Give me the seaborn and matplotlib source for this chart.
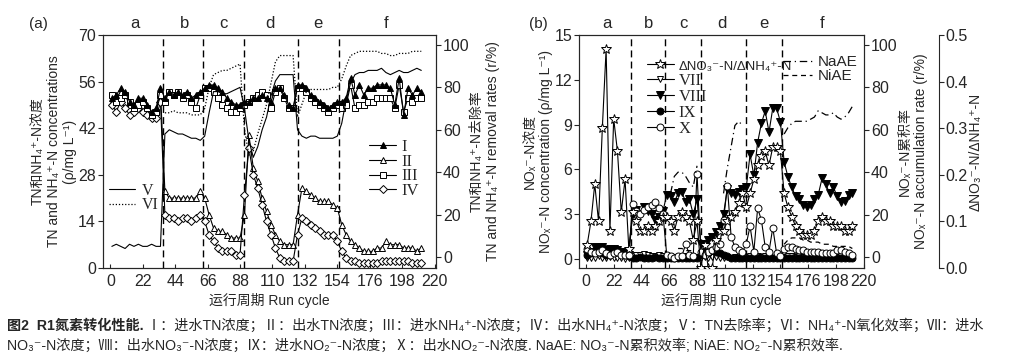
import numpy as np
import matplotlib
matplotlib.use("Agg")
import matplotlib.pyplot as plt
from matplotlib.lines import Line2D
import seaborn as sns

# run cycles sampled every 3 cycles; phases a-f
cycle = np.arange(1, 213, 3)
phase_edges = [36, 63, 91, 127, 155]
phase_names = ["a", "b", "c", "d", "e", "f"]
phase_mid = [17, 50, 77, 108, 141, 187]
nan = np.nan

# ---- panel (a): mg/L (left) and % (right)
tn_in = [51, 52, 54, 53, 50, 49, 51, 51, 49, 47, 48, 54,
         51, 53, 52, 53, 52, 53, 51, 52, 53,
         54, 55, 55, 54, 53, 51, 50, 49, 49,
         50, 50, 51, 51, 52, 51, 50, 54, 54, 52, 49, 48,
         55, 55, 54, 52, 51, 50, 49, 48, 49, 50,
         50, 51, 57, 52, 55, 52, 54, 54, 55, 55, 55, 54, 49, 57, 46, 54, 52, 54, 53]
tn_out = [50, 51, 53, 52, 49, 48, 50, 50, 48, 46, 47, 53,
          23, 21, 21, 21, 21, 21, 21, 21, 23,
          21, 16, 12, 11, 11, 10, 9, 9, 9,
          16, 40, 30, 26, 21, 17, 13, 10, 8, 7, 7, 7,
          16, 24, 23, 22, 21, 20, 20, 20, 19, 18,
          13, 10, 8, 7, 6, 5, 5, 5, 6, 6, 8, 7, 7, 7, 6, 6, 6, 5, 6]
nh4_in = [52, 50, 51, 52, 50, 48, 49, 50, 48, 46, 47, 52,
          50, 53, 52, 53, 51, 52, 50, 48, 52,
          54, 54, 53, 51, 49, 48, 47, 47, 48,
          49, 50, 51, 52, 53, 52, 48, 53, 54, 51, 48, 48,
          54, 54, 53, 51, 50, 49, 48, 47, 48, 49,
          48, 49, 55, 48, 49, 49, 50, 50, 51, 51, 51, 51, 48, 55, 47, 51, 50, 51, 51]
nh4_out = [49, 47, 50, 48, 46, 47, 48, 47, 46, 45, 45, 50,
           16, 15, 15, 14, 15, 15, 14, 15, 16,
           14, 10, 8, 6, 5, 5, 5, 4, 4,
           22, 36, 28, 24, 19, 14, 10, 6, 3, 2, 2, 2,
           10, 15, 14, 13, 12, 11, 10, 10, 10, 8,
           5, 3, 2, 2, 1.5, 1.5, 1.5, 1.5, 1.5, 2, 2, 2, 2, 2, 2, 2, 1.5, 1.5, 1.5]
tn_removal = [5, 6, 5, 4, 6, 5, 6, 5, 5, 6, 5, 5,
              58, 60, 59, 58, 58, 57, 56, 56, 55,
              57, 68, 78, 78, 77, 77, 78, 79, 80,
              70, 55, 47, 52, 60, 66, 76, 83, 86, 86, 86, 86,
              60, 57, 56, 57, 57, 56, 56, 56, 56, 57,
              63, 74, 82, 86, 87, 87, 88, 88, 88, 89, 87, 86, 87, 88, 87, 87, 88, 89, 88]
nh4_oxid = [nan] * 12 + [68, 68, 69, 68, 68, 68, 67, 67, 67,
                         70, 80, 86, 87, 88, 88, 89, 90, 91,
                         60, 48, 50, 58, 65, 72, 82, 92, 95, 95, 95, 95,
                         66, 72, 78, 79, 79, 79, 79, 79, 80, 80,
                         84, 90, 95, 96, 97, 97, 97, 97, 97, 96, 96, 95, 95, 96, 96, 96, 97, 97, 97]

# ---- panel (b): mg/L (left), % (right), ratio (outer right)
no3_in = [0.1, 0.05, 0.1, 0.2, 0.1, 0.1, 0.15, 0.1, 0.05, 0.1, 0.0, 0.1,
          0.2, 0.25, 0.3, 0.35, 0.3, 0.2, 0.2, 0.25, 0.2,
          0.15, 0.1, 0.15, 0.1, 0.15, 0.2, 0.15, 0.1, 0.15,
          0.1, 0.15, 0.1, 0.15, 0.15, 0.1, 0.1, 0.15, 0.1, 0.15, 0.1, 0.15,
          0.15, 0.2, 0.15, 0.2, 0.15, 0.2, 0.15, 0.1, 0.15, 0.1,
          0.15, 0.2, 0.2, 0.15, 0.2, 0.15, 0.2, 0.15, 0.15, 0.2, 0.15, 0.2, 0.15, 0.2, 0.15, 0.2, 0.15, 0.2, 0.15]
no3_out = [0.3, 0.5, 0.8, 0.7, 0.8, 0.6, 0.7, 0.7, 0.6, 0.5, 0.4, 0.3,
           3.0, 3.3, 3.0, 3.5, 3.2, 3.0, 2.6, 2.8, 3.2,
           4.3, 4.2, 3.8, 4.4, 4.5, 3.8, 4.0, 3.0, 4.0,
           1.0, 1.0, 1.3, 1.5, 1.8, 2.2, 3.0, 4.7, 4.4, 4.3, 4.5, 4.7,
           4.8, 7.0, 5.6, 7.8, 9.1, 9.9, 8.5, 10.1, 10.1, 9.2,
           6.5, 5.5, 4.8, 4.2, 4.0, 3.6, 3.5, 3.6, 4.0, 4.3, 5.4, 5.0, 4.4, 4.8, 4.2, 3.8, 3.9, 4.3, 4.4]
no2_in = [0.3, 0.4, 0.5, 0.6, 0.4, 0.3, 0.5, 0.6, 0.5, 0.4, 0.3, 0.2,
          0.1, 0.1, 0.15, 0.1, 0.1, 0.1, 0.15, 0.1, 0.1,
          0.1, 0.1, 0.05, 0.1, 0.1, 0.05, 0.1, 0.1, 0.1,
          0.3, 0.5, 0.4, 0.6, 0.5, 0.4, 0.3, 0.2, 0.1, 0.1, 0.1, 0.1,
          0.1, 0.1, 0.1, 0.1, 0.1, 0.1, 0.1, 0.1, 0.1, 0.1,
          0.1, 0.1, 0.1, 0.1, 0.1, 0.1, 0.1, 0.1, 0.1, 0.1, 0.1, 0.1, 0.1, 0.1, 0.1, 0.1, 0.1, 0.1, 0.1]
no2_out = [0.7, 0.5, 0.4, 0.5, 0.6, 0.4, 0.3, 0.4, 0.5, 0.3, 0.3, 0.3,
           3.7, 3.2, 3.0, 3.3, 3.5, 3.6, 3.8, 3.4, 3.0,
           0.3, 0.2, 0.1, 0.2, 0.2, 1.0, 0.3, 0.2, 5.7,
           0.5, 0.3, 0.5, 0.6, 0.8, 1.0, 2.6, 4.9, 1.5, 0.8, 0.6, 0.5,
           1.0, 2.2, 0.5, 3.4, 2.6, 0.8, 0.5, 2.1, 0.4, 0.2,
           0.7, 0.8, 0.8, 0.7, 0.6, 0.6, 0.5, 0.5, 0.5, 0.5, 0.4, 0.4, 0.4, 0.4, 0.6, 0.6, 0.5, 0.4, 0.3]
ratio = [0.05, 0.10, 0.18, 0.10, 0.30, 0.47, 0.08, 0.32, 0.25, 0.12, 0.19, 0.04,
         0.12, 0.10, 0.08, 0.08, 0.09, 0.08, 0.09, 0.10, 0.11,
         0.11, 0.10, 0.08, 0.11, 0.12, 0.11, 0.10, 0.06, 0.10,
         0.00, 0.05, 0.00, 0.00, 0.06, 0.08, 0.08, 0.10, 0.11, 0.12, 0.14, 0.16,
         0.13, 0.16, 0.19, 0.22, 0.24, 0.25, 0.22, 0.26, 0.26, 0.25,
         0.16, 0.13, 0.11, 0.09, 0.08, 0.07, 0.07, 0.07, 0.08, 0.10, 0.11, 0.10, 0.10, 0.09, 0.09, 0.09, 0.08, 0.08, 0.09]
naae = ([nan] * 21 + [nan, 30, 38, 40, 40, 38, 35, 33, 43]
        + [nan] * 6 + [30, 42, 52, 62, 64, 62] + [nan] * 10
        + [58, 61, 63, 64, 64, 64, 64, 65, 66, 69, 68, 67, 67, 68, 66, 65, 66, 68, 71])
niae = ([nan] * 21 + [nan, nan, nan, 4, 4, 3, 3, 3, nan]
        + [nan] * 12 + [nan] * 10
        + [6, 8, 9, 9, 9, 8, 8, 7, 7, 7, 6, 6, 6, 5, 5, 5, 5, 5, 4])

sns.set_style("ticks")
plt.rcParams["font.family"] = ["Liberation Sans", "Noto Sans CJK SC", "DejaVu Sans"]
plt.rcParams["axes.linewidth"] = 0.8
SERIF = ["Liberation Serif", "Noto Sans CJK SC", "DejaVu Sans"]
TICK_FS = 11.5


def draw(ax, y, **kw):
    # one seaborn line per run of valid values so that gaps stay open
    y = np.asarray(y, dtype=float)
    idx = np.flatnonzero(~np.isnan(y))
    for run in np.split(idx, np.flatnonzero(np.diff(idx) > 1) + 1):
        if len(run):
            sns.lineplot(x=cycle[run], y=y[run], ax=ax, estimator=None,
                         sort=False, legend=False, **kw)


def mk(marker, filled, ms=5):
    return dict(color="k", lw=0.8, marker=marker, ms=ms, mew=0.7,
                mec="k", mfc="k" if filled else "white")


def yticks_style(ax):
    ax.tick_params(axis="y", direction="out", length=3.5, pad=1.5,
                   labelsize=TICK_FS)


def style_axes(ax, xlim):
    ax.set_xlim(*xlim)
    ax.set_xticks(range(0, 221, 22))
    ax.tick_params(axis="x", direction="in", length=3, labelsize=TICK_FS, pad=4)
    yticks_style(ax)
    for e in phase_edges:
        ax.axvline(e, color="k", lw=1, ls=(0, (5, 3)), zorder=0)
    for m, n in zip(phase_mid, phase_names):
        ax.text(m, 1.048, n, transform=ax.get_xaxis_transform(),
                ha="center", va="center", fontsize=12)
    ax.set_xlabel("运行周期 Run cycle", fontsize=10, labelpad=3)


fig = plt.figure(figsize=(10.24, 3.56), dpi=100)

# ---------------- panel (a)
axa = fig.add_axes([0.1006, 0.2472, 0.3252, 0.6545])
axa_r = axa.twinx()
draw(axa_r, tn_removal, color="k", lw=0.8)
draw(axa_r, nh4_oxid, color="k", lw=0.9, ls=(0, (1, 1.5)))
draw(axa, tn_out, **mk("^", False))
draw(axa, nh4_out, **mk("D", False, 4.2))
draw(axa, nh4_in, **mk("s", False, 4.5))
draw(axa, tn_in, **mk("^", True))
style_axes(axa, (-5, 221))
axa.set_ylim(0, 70)
axa.set_yticks(range(0, 71, 14))
axa.set_ylabel("TN和NH₄⁺-N浓度\nTN and NH₄⁺-N concentrations\n(ρ/mg L⁻¹)",
               fontsize=10, labelpad=1, linespacing=1.2)
axa_r.set_ylim(-5.2, 104.7)
axa_r.set_yticks(range(0, 101, 20))
yticks_style(axa_r)
axa_r.set_ylabel("TN和NH₄⁺-N去除率\nTN and NH₄⁺-N removal rates (r/%)",
                 fontsize=10, labelpad=0, linespacing=1.2)
axa.text(-0.195, 1.048, "(a)", transform=axa.transAxes, fontsize=11,
         ha="center", va="center")

h1 = [Line2D([], [], color="k", lw=0.8),
      Line2D([], [], color="k", lw=0.9, ls=(0, (1, 1.5)))]
leg1 = axa.legend(h1, ["V", "VI"], loc="center left", bbox_to_anchor=(0.0, 0.30),
                  borderaxespad=0, frameon=False, handlelength=1.6,
                  handletextpad=0.4, labelspacing=-0.1,
                  prop={"family": SERIF, "size": 11.5})
axa.add_artist(leg1)
h2 = [Line2D([], [], **mk("^", True)), Line2D([], [], **mk("^", False)),
      Line2D([], [], **mk("s", False, 4.5)), Line2D([], [], **mk("D", False, 4.2))]
axa.legend(h2, ["I", "II", "III", "IV"], loc="center left",
           bbox_to_anchor=(0.78, 0.425), borderaxespad=0, frameon=False,
           handlelength=1.6, handletextpad=0.3, labelspacing=-0.07,
           prop={"family": SERIF, "size": 12})

# ---------------- panel (b)
axb = fig.add_axes([0.5654, 0.2472, 0.2783, 0.6545])
axb_r = axb.twinx()
ax3 = axb.twinx()
ax3.spines["right"].set_position(("axes", 1.263))
for s in ["top", "bottom", "left"]:
    ax3.spines[s].set_visible(False)

draw(axb_r, naae, color="k", lw=0.9, ls=(0, (6, 3, 1, 3)))
draw(axb_r, niae, color="k", lw=0.9, ls=(0, (4, 3)))
draw(axb, no3_in, **mk("v", False))
draw(axb, no2_in, **mk("o", True))
draw(axb, no3_out, **mk("v", True, 6))
draw(axb, no2_out, **mk("o", False))
draw(ax3, ratio, **mk("*", False, 7))

style_axes(axb, (-5.5, 220.2))
axb.set_ylim(-0.6, 15)
axb.set_yticks(range(0, 16, 3))
axb.set_ylabel("NOₓ⁻-N浓度\nNOₓ⁻-N concentration (ρ/mg L⁻¹)",
               fontsize=10, labelpad=1, linespacing=1.2)
axb_r.set_ylim(-5.2, 104.7)
axb_r.set_yticks(range(0, 101, 20))
yticks_style(axb_r)
axb_r.set_ylabel("NOₓ⁻-N累积率\nNOₓ⁻-N accumulation rate (r/%)",
                 fontsize=10, labelpad=0, linespacing=1.2)
ax3.set_ylim(0, 0.5)
ax3.set_yticks(np.arange(0, 0.51, 0.1))
ax3.yaxis.set_major_formatter(matplotlib.ticker.FormatStrFormatter("%.1f"))
yticks_style(ax3)
ax3.set_ylabel("ΔNO₃⁻-N/ΔNH₄⁺-N", fontsize=10, labelpad=0)
axb.text(-0.144, 1.048, "(b)", transform=axb.transAxes, fontsize=11,
         ha="center", va="center")

h3 = [Line2D([], [], **mk("*", False, 7)),
      Line2D([], [], **mk("v", False)), Line2D([], [], **mk("v", True, 6)),
      Line2D([], [], **mk("o", True)), Line2D([], [], **mk("o", False))]
leg3 = axb.legend(h3, ["ΔNO₃⁻-N/ΔNH₄⁺-N", "VII", "VIII", "IX", "X"],
                  loc="upper left", bbox_to_anchor=(0.215, 0.93), borderaxespad=0,
                  frameon=False, handlelength=1.6, handletextpad=0.3,
                  labelspacing=0.0, prop={"family": SERIF, "size": 12})
leg3.get_texts()[0].set_family(["Liberation Sans", "DejaVu Sans"])
leg3.get_texts()[0].set_fontsize(9.5)
axb.add_artist(leg3)
h4 = [Line2D([], [], color="k", lw=0.9, ls=(0, (6, 3, 1, 3))),
      Line2D([], [], color="k", lw=0.9, ls=(0, (4, 3)))]
axb.legend(h4, ["NaAE", "NiAE"], loc="upper right", bbox_to_anchor=(1.0, 0.94),
           borderaxespad=0, frameon=False, handlelength=1.9, handletextpad=0.4,
           labelspacing=0.0, fontsize=11)

# ---------------- caption
cap_fs = 10.2
t = fig.text(0.007, 0.085, "图2  R1氮素转化性能.", fontsize=cap_fs, weight="bold",
             va="center")
fig.canvas.draw()
x1 = t.get_window_extent().x1 / fig.bbox.width
fig.text(x1 + 0.003, 0.085,
         "Ⅰ：进水TN浓度；Ⅱ：出水TN浓度；Ⅲ：进水NH₄⁺-N浓度；Ⅳ：出水NH₄⁺-N浓度；"
         "Ⅴ：TN去除率；Ⅵ：NH₄⁺-N氧化效率；Ⅶ：进水",
         fontsize=cap_fs, va="center")
fig.text(0.007, 0.030,
         "NO₃⁻-N浓度；Ⅷ：出水NO₃⁻-N浓度；Ⅸ：进水NO₂⁻-N浓度；Ⅹ：出水NO₂⁻-N浓度. "
         "NaAE: NO₃⁻-N累积效率; NiAE: NO₂⁻-N累积效率.",
         fontsize=cap_fs, va="center")

fig.savefig("out.png", dpi=100)
